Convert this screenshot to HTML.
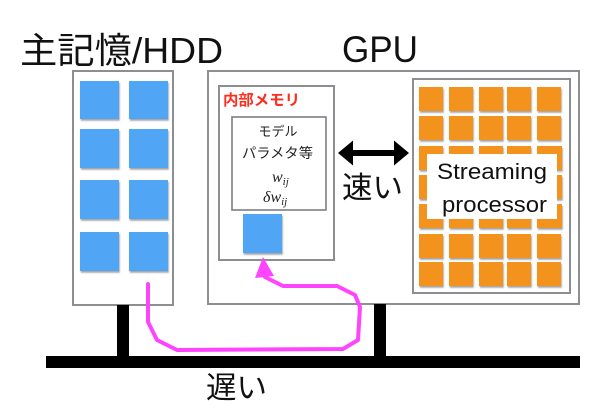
<!DOCTYPE html>
<html><head><meta charset="utf-8"><style>
html,body{margin:0;padding:0;background:#fff;}
svg{display:block;}
</style></head><body>
<svg width="612" height="414" viewBox="0 0 612 414" xmlns="http://www.w3.org/2000/svg">
<defs>
<filter id="sh" x="-20%" y="-20%" width="150%" height="150%">
<feDropShadow dx="0.8" dy="1.8" stdDeviation="0.9" flood-color="#000" flood-opacity="0.35"/>
</filter>
</defs>
<rect width="612" height="414" fill="#fff"/>

<!-- titles -->
<text x="20" y="63" font-family="'Liberation Sans','Noto Sans CJK JP',sans-serif" font-size="36" fill="#111" textLength="203" lengthAdjust="spacingAndGlyphs">主記憶/HDD</text>
<text x="342" y="62" font-family="'Liberation Sans','Noto Sans CJK JP',sans-serif" font-size="37" fill="#111" textLength="76" lengthAdjust="spacingAndGlyphs">GPU</text>

<!-- HDD box -->
<rect x="73" y="71" width="100" height="234" fill="#fff" stroke="#8c8e91" stroke-width="2"/>
<g fill="#51a5f5" filter="url(#sh)">
<rect x="80" y="81" width="39" height="38"/><rect x="129" y="81" width="39" height="38"/>
<rect x="80" y="129" width="39" height="39"/><rect x="129" y="129" width="39" height="39"/>
<rect x="80" y="180" width="39" height="39"/><rect x="129" y="180" width="39" height="39"/>
<rect x="80" y="232" width="39" height="39"/><rect x="129" y="232" width="39" height="39"/>
</g>

<!-- GPU box -->
<rect x="208" y="71" width="371" height="233" fill="#fff" stroke="#8c8e91" stroke-width="2"/>

<!-- internal memory -->
<rect x="219" y="86" width="115" height="174" fill="#fff" stroke="#8c8e91" stroke-width="2"/>
<text x="223" y="105" font-family="'Liberation Sans','Noto Sans CJK JP',sans-serif" font-size="15" font-weight="bold" fill="#ff2d1e" textLength="77" lengthAdjust="spacingAndGlyphs">内部メモリ</text>
<rect x="232" y="117" width="94" height="93" fill="#fff" stroke="#7d7f82" stroke-width="1.6"/>
<text x="278" y="136" text-anchor="middle" font-family="'Liberation Sans','Noto Sans CJK JP',sans-serif" font-size="13" fill="#222">モデル</text>
<text x="242" y="158" font-family="'Liberation Sans','Noto Sans CJK JP',sans-serif" font-size="14" fill="#222" textLength="71" lengthAdjust="spacingAndGlyphs">パラメタ等</text>
<text x="272" y="182" font-family="'Liberation Serif',serif" font-style="italic" font-size="16" fill="#222">w<tspan font-size="11" dy="3">ij</tspan></text>
<text x="263" y="202" font-family="'Liberation Serif',serif" font-style="italic" font-size="16" fill="#222">δw<tspan font-size="11" dy="3">ij</tspan></text>
<rect x="243" y="214" width="39" height="39" fill="#51a5f5" filter="url(#sh)"/>

<!-- double arrow -->
<polygon points="338,153 353,140.5 353,150 394,150 394,140.5 409,153 394,165.5 394,156 353,156 353,165.5" fill="#000"/>
<text x="342" y="198" font-family="'Liberation Sans','Noto Sans CJK JP',sans-serif" font-size="30" fill="#111" textLength="61" lengthAdjust="spacingAndGlyphs">速い</text>

<!-- streaming processor -->
<rect x="413" y="79" width="157" height="214" fill="#fff" stroke="#8c8e91" stroke-width="2"/>
<g fill="#f3921f" filter="url(#sh)">
<rect x="419" y="87" width="24" height="24"/><rect x="449" y="87" width="24" height="24"/><rect x="479" y="87" width="24" height="24"/><rect x="507" y="87" width="24" height="24"/><rect x="537" y="87" width="24" height="24"/>
<rect x="419" y="116" width="24" height="24"/><rect x="449" y="116" width="24" height="24"/><rect x="479" y="116" width="24" height="24"/><rect x="507" y="116" width="24" height="24"/><rect x="537" y="116" width="24" height="24"/>
<rect x="419" y="146" width="24" height="24"/><rect x="449" y="146" width="24" height="24"/><rect x="479" y="146" width="24" height="24"/><rect x="507" y="146" width="24" height="24"/><rect x="537" y="146" width="25" height="24"/>
<rect x="419" y="175" width="24" height="24"/><rect x="449" y="175" width="24" height="24"/><rect x="479" y="175" width="24" height="24"/><rect x="507" y="175" width="24" height="24"/><rect x="537" y="175" width="25" height="24"/>
<rect x="419" y="204" width="24" height="24"/><rect x="449" y="204" width="24" height="24"/><rect x="479" y="204" width="24" height="24"/><rect x="507" y="204" width="24" height="24"/><rect x="537" y="204" width="25" height="24"/>
<rect x="419" y="234" width="24" height="24"/><rect x="449" y="234" width="24" height="24"/><rect x="479" y="234" width="24" height="24"/><rect x="507" y="234" width="24" height="24"/><rect x="537" y="234" width="24" height="24"/>
<rect x="419" y="262" width="24" height="24"/><rect x="449" y="262" width="24" height="24"/><rect x="479" y="262" width="24" height="24"/><rect x="507" y="262" width="24" height="24"/><rect x="537" y="262" width="24" height="24"/>
</g>
<rect x="427" y="154" width="130" height="65" fill="#fff"/>
<text x="437" y="179" font-family="'Liberation Sans','Noto Sans CJK JP',sans-serif" font-size="22" fill="#111" textLength="110" lengthAdjust="spacingAndGlyphs">Streaming</text>
<text x="442" y="212" font-family="'Liberation Sans','Noto Sans CJK JP',sans-serif" font-size="22" fill="#111" textLength="105" lengthAdjust="spacingAndGlyphs">processor</text>

<!-- bus -->
<rect x="117" y="305" width="12" height="53" fill="#000"/>
<rect x="374" y="304" width="12" height="54" fill="#000"/>
<rect x="46" y="356" width="534" height="12" fill="#000"/>
<text x="206" y="398" font-family="'Liberation Sans','Noto Sans CJK JP',sans-serif" font-size="30" fill="#111" textLength="61" lengthAdjust="spacingAndGlyphs">遅い</text>

<!-- magenta path -->
<path d="M148,284 L148,322 L157,340 L177,350 L343,349 L358,340 L360,307 L355,295 L337,286 L283,286 L265,277" fill="none" stroke="#ff44ff" stroke-width="4" stroke-linejoin="round" stroke-linecap="round"/>
<polygon points="263,257 255,278 274,276" fill="#ff44ff"/>
</svg>
</body></html>
